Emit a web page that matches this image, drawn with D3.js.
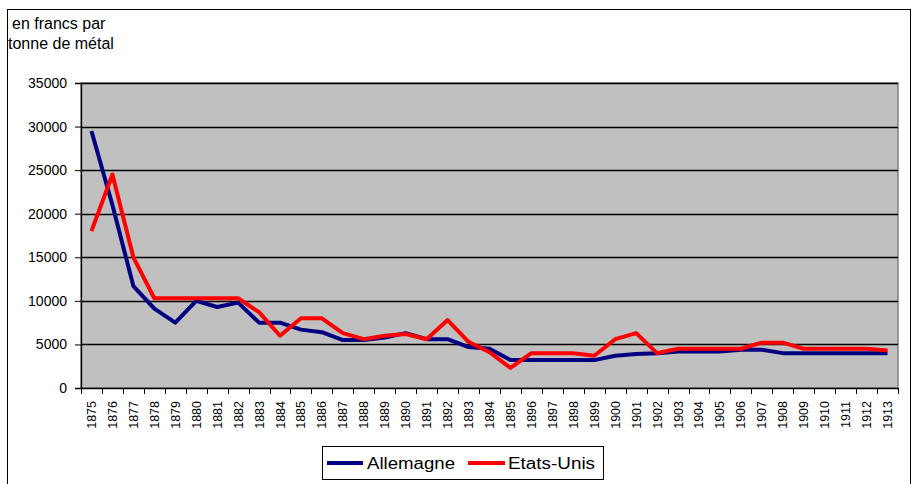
<!DOCTYPE html>
<html>
<head>
<meta charset="utf-8">
<script src="https://cdn.jsdelivr.net/npm/d3@7"></script>
<style>
  body { margin: 0; background: #fff; }
  svg { display: block; font-family: "Liberation Sans", Arial, sans-serif; }
</style>
</head>
<body>
<div id="chart"></div>
<script>
var years = [];
for (var yr = 1875; yr <= 1913; yr++) years.push(yr);

var allemagne = [29500, 21000, 11700, 9100, 7500, 10000, 9300, 9800, 7500, 7500,
                 6700, 6400, 5500, 5500, 5800, 6300, 5600, 5600, 4700, 4500,
                 3200, 3200, 3200, 3200, 3200, 3700, 3900, 4000, 4200, 4200,
                 4200, 4400, 4400, 4000, 4000, 4000, 4000, 4000, 4000];
var etatsUnis = [18000, 24500, 15000, 10300, 10300, 10300, 10300, 10300, 8700, 6000,
                 8000, 8000, 6300, 5600, 6000, 6200, 5600, 7800, 5300, 4100,
                 2300, 4000, 4000, 4000, 3700, 5600, 6300, 4000, 4500, 4500,
                 4500, 4500, 5200, 5200, 4500, 4500, 4500, 4500, 4300];
var yTicks = [0, 5000, 10000, 15000, 20000, 25000, 30000, 35000];
var seriesNames = ["Allemagne", "Etats-Unis"];
var seriesColors = ["#000080", "#ff0000"];

var W = 912, H = 484;
var plot = {left: 81, right: 898, top: 83, bottom: 388};

var svg = d3.select('#chart').append('svg')
    .attr('width', W).attr('height', H);

// outer chart frame
svg.append('rect')
    .attr('x', 7.5).attr('y', 9.5)
    .attr('width', 903).attr('height', 490)
    .attr('fill', 'none').attr('stroke', '#000').attr('stroke-width', 1);

// unit label
svg.append('text').attr('x', 12).attr('y', 29).attr('font-size', 16).text('en francs par');
svg.append('text').attr('x', 8).attr('y', 49).attr('font-size', 16).text('tonne de métal');

var x = d3.scaleBand().domain(years).range([plot.left, plot.right]).paddingInner(0).paddingOuter(0);
var y = d3.scaleLinear().domain([0, 35000]).range([plot.bottom, plot.top]);
var cx = function(d){ return x(d) + x.bandwidth()/2; };

// plot background
svg.append('rect')
    .attr('x', plot.left).attr('y', plot.top)
    .attr('width', plot.right - plot.left).attr('height', plot.bottom - plot.top)
    .attr('fill', '#c0c0c0').attr('stroke', '#808080').attr('stroke-width', 1.5);

// gridlines
svg.append('g').selectAll('line')
    .data(yTicks.filter(function(d){ return d > 0; }))
    .enter().append('line')
    .attr('x1', plot.left).attr('x2', plot.right)
    .attr('y1', function(d){ return Math.round(y(d)) + 0.5; })
    .attr('y2', function(d){ return Math.round(y(d)) + 0.5; })
    .attr('stroke', '#000').attr('stroke-width', 1.3);

// y axis
var yAxis = svg.append('g')
    .attr('transform', 'translate(' + plot.left + ',0)')
    .call(d3.axisLeft(y).tickValues(yTicks).tickSize(6).tickPadding(8).tickFormat(d3.format('d')));
yAxis.select('.domain').attr('stroke', '#000').attr('stroke-width', 1.3);
yAxis.selectAll('.tick line').attr('stroke', '#000');
yAxis.selectAll('.tick text').attr('font-size', 14).attr('fill', '#000')
    .attr('font-family', '"Liberation Sans", Arial, sans-serif');

// x axis line and ticks on band edges
svg.append('line')
    .attr('x1', plot.left).attr('x2', plot.right)
    .attr('y1', plot.bottom + 0.5).attr('y2', plot.bottom + 0.5)
    .attr('stroke', '#000').attr('stroke-width', 1.5);
var edges = years.map(function(d){ return x(d); }).concat([plot.right]);
svg.append('g').selectAll('line')
    .data(edges)
    .enter().append('line')
    .attr('x1', function(d){ return Math.round(d) + 0.5; })
    .attr('x2', function(d){ return Math.round(d) + 0.5; })
    .attr('y1', plot.bottom).attr('y2', plot.bottom + 6)
    .attr('stroke', '#000');

svg.append('g').selectAll('text')
    .data(years)
    .enter().append('text')
    .attr('transform', function(d){ return 'translate(' + (cx(d) + 4.5) + ',401) rotate(-90)'; })
    .attr('text-anchor', 'end')
    .attr('font-size', 12.5)
    .text(function(d){ return d; });

// lines
var line = d3.line()
    .x(function(d, i){ return cx(years[i]); })
    .y(function(d){ return y(d); });

[allemagne, etatsUnis].forEach(function(s, k){
    svg.append('path')
        .datum(s)
        .attr('d', line)
        .attr('fill', 'none')
        .attr('stroke', seriesColors[k])
        .attr('stroke-width', 4)
        .attr('stroke-linejoin', 'round');
});

// legend
var legend = svg.append('g');
legend.append('rect')
    .attr('x', 322.5).attr('y', 446.5)
    .attr('width', 281).attr('height', 33)
    .attr('fill', '#fff').attr('stroke', '#000').attr('stroke-width', 1);
var legendX = [[327, 363, 367, 88], [468, 505, 508, 87]];
seriesNames.forEach(function(name, k){
    var p = legendX[k];
    legend.append('line')
        .attr('x1', p[0]).attr('x2', p[1])
        .attr('y1', 463).attr('y2', 463)
        .attr('stroke', seriesColors[k]).attr('stroke-width', 4);
    legend.append('text')
        .attr('x', p[2]).attr('y', 469)
        .attr('font-size', 16)
        .attr('textLength', p[3]).attr('lengthAdjust', 'spacingAndGlyphs')
        .text(name);
});
</script>
</body>
</html>
